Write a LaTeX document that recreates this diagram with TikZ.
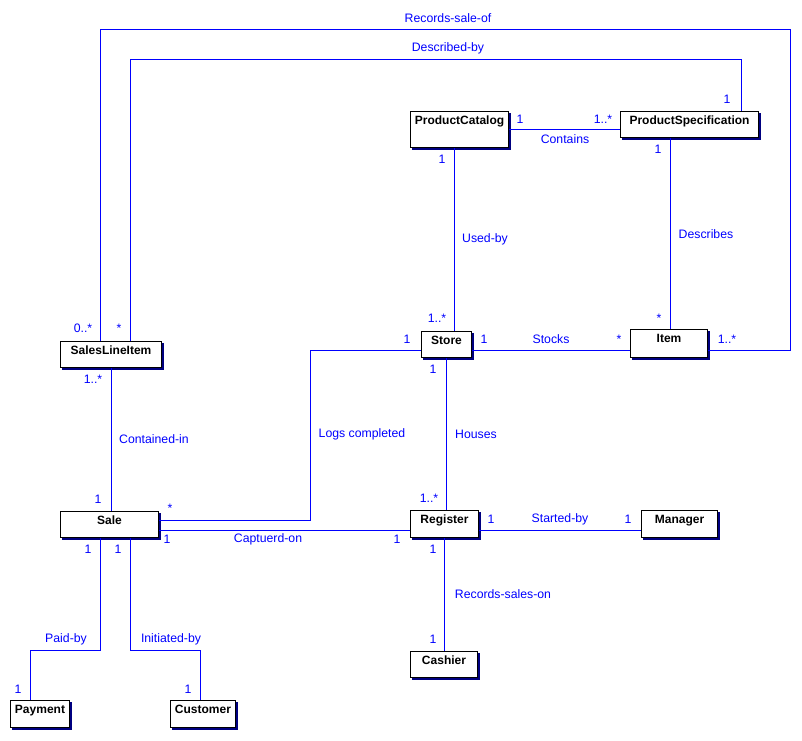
\documentclass[tikz,border=0pt]{standalone}
\usepackage{fontspec}
\setmainfont{Liberation Sans}
\usepackage{tikz}
\usetikzlibrary{calc,
	shadows
}
\definecolor{assocblue}{RGB}{0,0,255}
\definecolor{shadowblue}{RGB}{0,0,128}
\tikzset{Domain/.style = {
		x=0.75pt, y=-0.75pt,
		line width=0.75pt,
		cls/.style = {draw, fill=white, anchor=north west,
			inner xsep=2pt, inner ysep=3pt, text height=6.5pt, text depth=7pt,
			font=\fontsize{9}{11}\selectfont\bfseries,
			copy shadow={fill=shadowblue, draw=shadowblue, shadow xshift=1.5pt, shadow yshift=-1.5pt},
		},
		assoc/.style = {draw=assocblue},
		role/.style = {text=assocblue, inner sep=0pt, font=\fontsize{9.2}{11}\selectfont},
		mult/.style = {role},
	}% end of Domain style
}

\begin{document}
\begin{tikzpicture}[Domain]
  \path[fill=white,use as bounding box] (0,0) rectangle (802,741);

  % classes
  \node[cls, minimum width=73.5pt, text depth=14.5pt] (ProductCatalog) at (410,111) {ProductCatalog};
  \node[cls, minimum width=103.5pt] (ProductSpec) at (620,111) {ProductSpecification};
  \node[cls, minimum width=37.5pt] (Store) at (421,331) {Store};
  \node[cls, minimum width=57.75pt, text depth=8.5pt] (Item) at (630,329) {Item};
  \node[cls, minimum width=75.75pt] (SalesLineItem) at (60,341) {SalesLineItem};
  \node[cls, minimum width=73.5pt] (Sale) at (60,511) {Sale};
  \node[cls, minimum width=51pt, text depth=7.75pt] (Register) at (410,510) {Register};
  \node[cls, minimum width=57pt, text depth=7.75pt] (Manager) at (641,510) {Manager};
  \node[cls, minimum width=50.25pt] (Cashier) at (410,651) {Cashier};
  \node[cls, minimum width=44.25pt, text depth=7.75pt] (Payment) at (10,700) {Payment};
  \node[cls, minimum width=48.75pt, text depth=7.75pt] (Customer) at (170,700) {Customer};

  % bends and tracks
  \coordinate (recTopLeft) at (100,30);
  \coordinate (recTopRight) at (790,30);
  \coordinate (recBottomRight) at (790,350);
  \coordinate (descTopLeft) at (130,60);
  \coordinate (descTopRight) at (741,60);
  \coordinate (usedBy) at (454,0);
  \coordinate (describes) at (670,0);
  \coordinate (stocks) at (0,350);
  \coordinate (logsHigh) at (310,350);
  \coordinate (logsLow) at (310,520);
  \coordinate (regLine) at (0,530);
  \coordinate (paidHigh) at (100,650);
  \coordinate (paidLow) at (30,650);
  \coordinate (initHigh) at (130,650);
  \coordinate (initLow) at (200,650);

  % associations
  \draw[assoc] (SalesLineItem.north -| recTopLeft) -- (recTopLeft) -- (recTopRight) -- (recBottomRight) -- (recBottomRight -| Item.east);
  \draw[assoc] (SalesLineItem.north -| descTopLeft) -- (descTopLeft) -- (descTopRight) -- (ProductSpec.north -| descTopRight);
  \draw[assoc] (ProductCatalog.east) -- (ProductCatalog.east -| ProductSpec.west);
  \draw[assoc] (ProductCatalog.south -| usedBy) -- (Store.north -| usedBy);
  \draw[assoc] (ProductSpec.south -| describes) -- (Item.north -| describes);
  \draw[assoc] (Store.east |- stocks) -- (Item.west |- stocks);
  \draw[assoc] (Store.west |- logsHigh) -- (logsHigh) -- (logsLow) -- (logsLow -| Sale.east);
  \draw[assoc] (Store.south) -- (Store.south |- Register.north);
  \draw[assoc] (Sale.east |- regLine) -- (Register.west |- regLine);
  \draw[assoc] (Register.east |- regLine) -- (Manager.west |- regLine);
  \draw[assoc] (Register.south) -- (Register.south |- Cashier.north);
  \draw[assoc] (SalesLineItem.south) -- (SalesLineItem.south |- Sale.north);
  \draw[assoc] (Sale.south -| paidHigh) -- (paidHigh) -- (paidLow) -- (Payment.north -| paidLow);
  \draw[assoc] (Sale.south -| initHigh) -- (initHigh) -- (initLow) -- (Customer.north -| initLow);

  % association names
  \node[role] (RecordsSaleOf) at (448,18) {Records-sale-of};
  \node[role] (DescribedBy) at (448,48) {Described-by};
  \node[role] (Contains) at (565,139) {Contains};
  \node[role] (UsedBy) at (485,239) {Used-by};
  \node[role] (Describes) at (706,234) {Describes};
  \node[role] (Stocks) at (551,339) {Stocks};
  \node[role] (LogsCompleted) at (362,434) {Logs completed};
  \node[role] (Houses) at (476,434) {Houses};
  \node[role] (ContainedIn) at (154,439) {Contained-in};
  \node[role] (CapturedOn) at (268,539) {Captuerd-on};
  \node[role] (StartedBy) at (560,519) {Started-by};
  \node[role] (RecordsSalesOn) at (503,594) {Records-sales-on};
  \node[role] (PaidBy) at (66,639) {Paid-by};
  \node[role] (InitiatedBy) at (171,639) {Initiated-by};

  % multiplicities
  \node[mult] (mPCcontains) at (520,119) {1};
  \node[mult] (mPScontains) at (603,119) {1..*};
  \node[mult] (mPSdesc) at (727,99) {1};
  \node[mult] (mPCused) at (442,159) {1};
  \node[mult] (mPSitem) at (658,149) {1};
  \node[mult] (mStoreused) at (437,318) {1..*};
  \node[mult] (mItemdesc) at (659,318) {*};
  \node[mult] (mStorelogs) at (407,339) {1};
  \node[mult] (mStorestocks) at (484,339) {1};
  \node[mult] (mItemstocks) at (619,339) {*};
  \node[mult] (mItemrec) at (727,339) {1..*};
  \node[mult] (mStorehouses) at (433,369) {1};
  \node[mult] (mSLIrec) at (83,328) {0..*};
  \node[mult] (mSLIdesc) at (119,328) {*};
  \node[mult] (mSLIsale) at (93,379) {1..*};
  \node[mult] (mSaleSLI) at (98,499) {1};
  \node[mult] (mSalelogs) at (170,508) {*};
  \node[mult] (mSalecapt) at (167,539) {1};
  \node[mult] (mRegcapt) at (397,539) {1};
  \node[mult] (mReghouses) at (429,498) {1..*};
  \node[mult] (mRegstarted) at (491,519) {1};
  \node[mult] (mManstarted) at (628,519) {1};
  \node[mult] (mRegcash) at (433,549) {1};
  \node[mult] (mCashreg) at (433,639) {1};
  \node[mult] (mSalepaid) at (88,549) {1};
  \node[mult] (mSaleinit) at (118,549) {1};
  \node[mult] (mPaypaid) at (18,689) {1};
  \node[mult] (mCustinit) at (188,689) {1};
\end{tikzpicture}
\end{document}
